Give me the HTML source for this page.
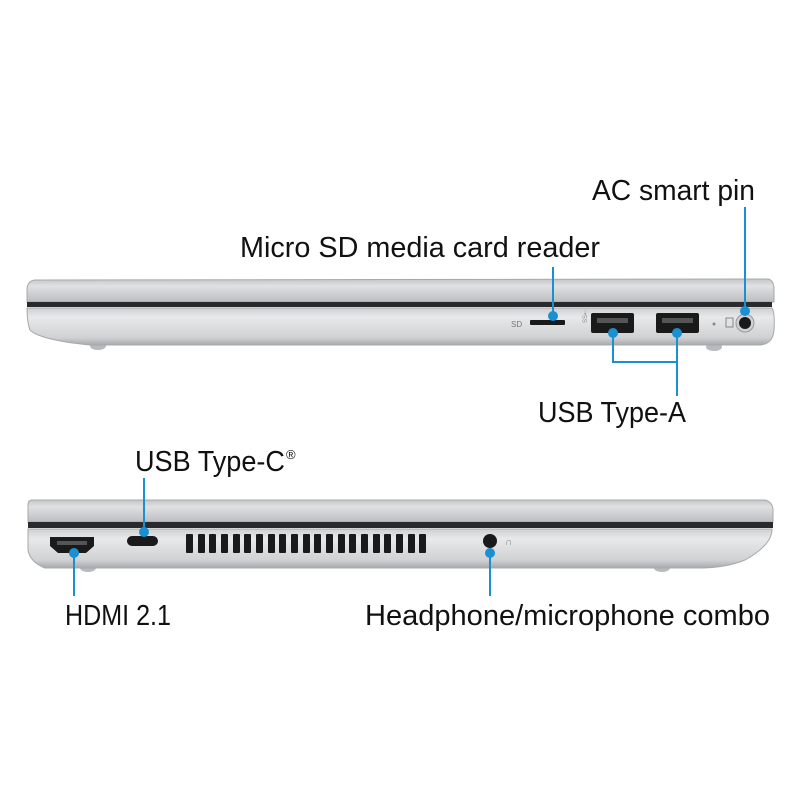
<!DOCTYPE html>
<html><head><meta charset="utf-8"><style>html,body{margin:0;padding:0;background:#fff}svg{display:block}text{font-family:"Liberation Sans",sans-serif;fill:#111}</style></head><body>
<svg width="800" height="800" viewBox="0 0 800 800" xmlns="http://www.w3.org/2000/svg">
<defs>
<linearGradient id="lid" x1="0" y1="0" x2="0" y2="1"><stop offset="0" stop-color="#c4c5c8"/><stop offset="0.3" stop-color="#e0e1e3"/><stop offset="1" stop-color="#bcbdc0"/></linearGradient>
<linearGradient id="base" x1="0" y1="0" x2="0" y2="1"><stop offset="0" stop-color="#cfd0d2"/><stop offset="0.25" stop-color="#e8e9ea"/><stop offset="0.8" stop-color="#d0d1d3"/><stop offset="1" stop-color="#a8aaad"/></linearGradient>
</defs>
<!-- TOP LAPTOP -->
<ellipse cx="98" cy="346" rx="8" ry="4" fill="#b9babd"/>
<ellipse cx="714" cy="347" rx="8" ry="4" fill="#b9babd"/>
<path d="M35 280 L768 279 Q774 280 774 290 L774 302 L27 302 L27 290 Q27 281 35 280Z" fill="url(#lid)" stroke="#a6a8ab" stroke-width="1"/>
<rect x="27" y="302" width="745" height="5" fill="#2a2a2c"/>
<path d="M27 308 L772 308 Q775 312 774 330 Q773 344 760 345 L90 345 Q40 340 30 330 Q27 322 27 308Z" fill="url(#base)" stroke="#a6a8ab" stroke-width="1"/>
<text x="511" y="327" font-size="8" style="fill:#777">SD</text>
<rect x="530" y="320" width="35" height="5" rx="1" fill="#1a1a1a"/>
<text x="583" y="327" font-size="6" style="fill:#888" transform="rotate(-90 583 323)">SS⇠</text>
<rect x="591" y="313" width="43" height="20" rx="2" fill="#1a1a1a"/>
<rect x="597" y="318" width="31" height="5" fill="#555"/>
<rect x="656" y="313" width="43" height="20" rx="2" fill="#1a1a1a"/>
<rect x="662" y="318" width="31" height="5" fill="#555"/>
<circle cx="714" cy="324" r="1.5" fill="#888"/>
<rect x="726" y="318" width="7" height="9" fill="none" stroke="#888" stroke-width="1"/>
<circle cx="745" cy="323" r="9" fill="#cfd0d2" stroke="#999"/>
<circle cx="745" cy="323" r="6" fill="#1a1a1a"/>
<g stroke="#1a8fd1" stroke-width="2" fill="none">
<line x1="553" y1="267" x2="553" y2="316"/>
<line x1="745" y1="207" x2="745" y2="311"/>
<polyline points="613,333 613,362 677,362"/>
<line x1="677" y1="333" x2="677" y2="396"/>
</g>
<g fill="#1a8fd1"><circle cx="553" cy="316" r="5"/><circle cx="745" cy="311" r="5"/><circle cx="613" cy="333" r="5"/><circle cx="677" cy="333" r="5"/></g>
<text x="592" y="200" font-size="29" textLength="163" lengthAdjust="spacingAndGlyphs">AC smart pin</text>
<text x="240" y="257" font-size="29" textLength="360" lengthAdjust="spacingAndGlyphs">Micro SD media card reader</text>
<text x="538" y="422" font-size="29" textLength="148" lengthAdjust="spacingAndGlyphs">USB Type-A</text>
<!-- BOTTOM LAPTOP -->
<ellipse cx="88" cy="568" rx="8" ry="4" fill="#b9babd"/>
<ellipse cx="662" cy="568" rx="8" ry="4" fill="#b9babd"/>
<path d="M32 500 L765 500 Q773 502 773 511 L773 522 L28 522 L28 505 Q28 500 32 500Z" fill="url(#lid)" stroke="#a6a8ab" stroke-width="1"/>
<path d="M28 522 L773 522 L773 528 L28 528Z" fill="#2a2a2c"/>
<path d="M28 529 L772 529 Q772 545 745 560 Q725 568 700 568 L45 568 Q30 562 28 550Z" fill="url(#base)" stroke="#a6a8ab" stroke-width="1"/>
<path d="M50 537 L94 537 L94 546 L86 553 L58 553 L50 546Z" fill="#1a1a1a"/>
<rect x="57" y="541" width="30" height="4" fill="#555"/>
<rect x="127" y="536" width="31" height="10" rx="5" fill="#1a1a1a"/>
<g fill="#1a1a1a">
<rect x="186" y="534" width="7" height="19" rx="1"/><rect x="198" y="534" width="7" height="19" rx="1"/><rect x="209" y="534" width="7" height="19" rx="1"/><rect x="221" y="534" width="7" height="19" rx="1"/><rect x="233" y="534" width="7" height="19" rx="1"/><rect x="244" y="534" width="7" height="19" rx="1"/><rect x="256" y="534" width="7" height="19" rx="1"/><rect x="268" y="534" width="7" height="19" rx="1"/><rect x="279" y="534" width="7" height="19" rx="1"/><rect x="291" y="534" width="7" height="19" rx="1"/><rect x="303" y="534" width="7" height="19" rx="1"/><rect x="314" y="534" width="7" height="19" rx="1"/><rect x="326" y="534" width="7" height="19" rx="1"/><rect x="338" y="534" width="7" height="19" rx="1"/><rect x="349" y="534" width="7" height="19" rx="1"/><rect x="361" y="534" width="7" height="19" rx="1"/><rect x="373" y="534" width="7" height="19" rx="1"/><rect x="384" y="534" width="7" height="19" rx="1"/><rect x="396" y="534" width="7" height="19" rx="1"/><rect x="408" y="534" width="7" height="19" rx="1"/><rect x="419" y="534" width="7" height="19" rx="1"/>
</g>
<circle cx="490" cy="541" r="7" fill="#1a1a1a"/>
<text x="505" y="545" font-size="10" style="fill:#888">∩</text>
<g stroke="#1a8fd1" stroke-width="2" fill="none">
<line x1="74" y1="553" x2="74" y2="596"/>
<line x1="144" y1="478" x2="144" y2="532"/>
<line x1="490" y1="553" x2="490" y2="596"/>
</g>
<g fill="#1a8fd1"><circle cx="74" cy="553" r="5"/><circle cx="144" cy="532" r="5"/><circle cx="490" cy="553" r="5"/></g>
<text x="135" y="471" font-size="29" textLength="150" lengthAdjust="spacingAndGlyphs">USB Type-C</text>
<text x="286" y="459" font-size="13">®</text>
<text x="65" y="625" font-size="29" textLength="106" lengthAdjust="spacingAndGlyphs">HDMI 2.1</text>
<text x="365" y="625" font-size="29" textLength="405" lengthAdjust="spacingAndGlyphs">Headphone/microphone combo</text>
</svg>
</body></html>
